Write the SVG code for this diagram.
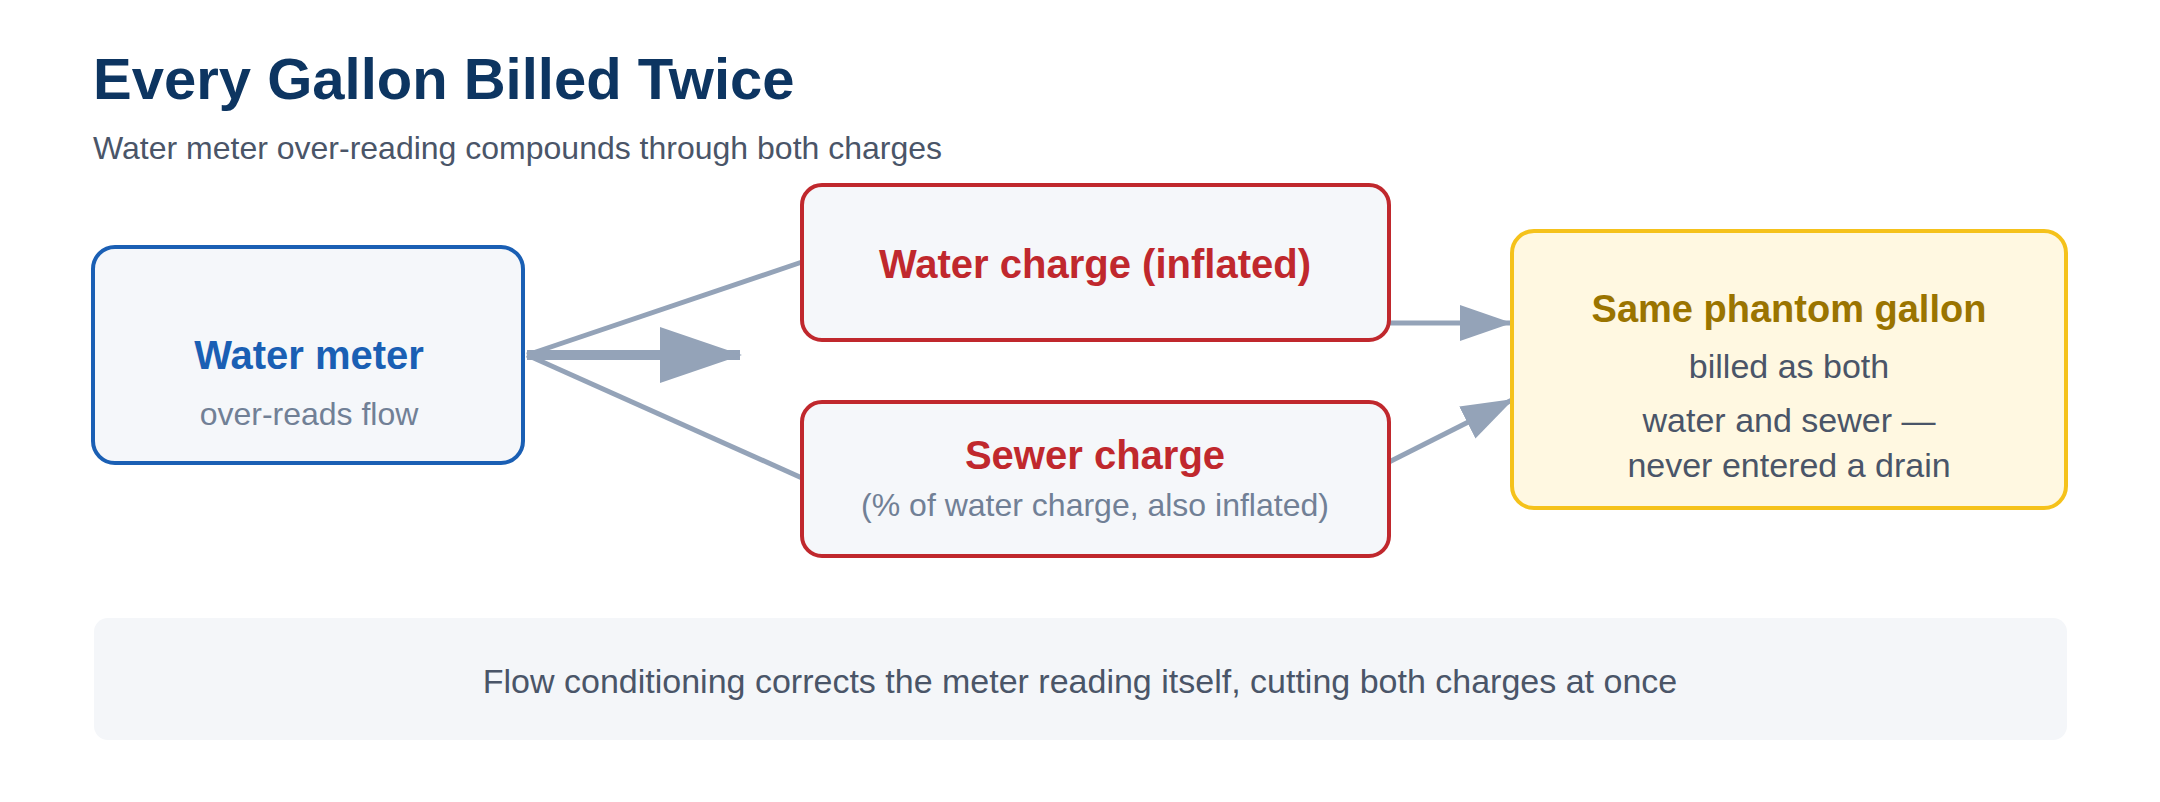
<svg xmlns="http://www.w3.org/2000/svg" width="2160" height="802" viewBox="0 0 2160 802">
<style>
text{font-family:"Liberation Sans",Arial,sans-serif}
.t{font-size:58px;font-weight:bold;fill:#0d3561}
.st{font-size:32px;fill:#4a5568}
.h{font-size:40px;font-weight:bold;text-anchor:middle}
.s{font-size:32px;fill:#718096;text-anchor:middle}
.b{font-size:34px;fill:#4a5568;text-anchor:middle}
.c{stroke:#94a3b8;stroke-width:5;fill:none}
</style>
<defs>
<marker id="ah" markerUnits="userSpaceOnUse" markerWidth="52" markerHeight="36" refX="50" refY="18" orient="auto"><path d="M0,0L52,18L0,36Z" fill="#94a3b8"/></marker>
<marker id="big" markerUnits="userSpaceOnUse" markerWidth="82" markerHeight="56" refX="80" refY="28" orient="auto"><path d="M0,0L82,28L0,56Z" fill="#94a3b8"/></marker>
</defs>
<rect width="2160" height="802" fill="#fff"/>
<text class="t" x="93" y="99">Every Gallon Billed Twice</text>
<text class="st" x="93" y="159">Water meter over-reading compounds through both charges</text>
<g id="connectors">
<path class="c" d="M527,355L802,262"/>
<path class="c" d="M527,355L802,478"/>
<path d="M527,355L740,355" stroke="#94a3b8" stroke-width="10" marker-end="url(#big)"/>
<path class="c" d="M1389,323L1510,323" marker-end="url(#ah)"/>
<path class="c" d="M1389,462L1512,400" marker-end="url(#ah)"/>
</g>
<g id="meter">
<rect x="93" y="247" width="430" height="216" rx="22" fill="#f5f7fa" stroke="#1a5fb4" stroke-width="4"/>
<text class="h" x="309" y="369" fill="#1a5fb4">Water meter</text>
<text class="s" x="309" y="425">over-reads flow</text>
</g>
<g id="water">
<rect x="802" y="185" width="587" height="155" rx="20" fill="#f5f7fa" stroke="#c0282d" stroke-width="4"/>
<text class="h" x="1095" y="278" fill="#c0282d">Water charge (inflated)</text>
</g>
<g id="sewer">
<rect x="802" y="402" width="587" height="154" rx="20" fill="#f5f7fa" stroke="#c0282d" stroke-width="4"/>
<text class="h" x="1095" y="469" fill="#c0282d">Sewer charge</text>
<text class="s" x="1095" y="516">(% of water charge, also inflated)</text>
</g>
<g id="phantom">
<rect x="1512" y="231" width="554" height="277" rx="22" fill="#fff8e1" stroke="#f5c21b" stroke-width="4"/>
<text class="h" x="1789" y="322" fill="#9a7400" style="font-size:38px">Same phantom gallon</text>
<text class="b" x="1789" y="378">billed as both</text>
<text class="b" x="1789" y="432">water and sewer —</text>
<text class="b" x="1789" y="477">never entered a drain</text>
</g>
<g id="banner">
<rect x="94" y="618" width="1973" height="122" rx="14" fill="#f4f6f9"/>
<text class="b" x="1080" y="693">Flow conditioning corrects the meter reading itself, cutting both charges at once</text>
</g>
</svg>
